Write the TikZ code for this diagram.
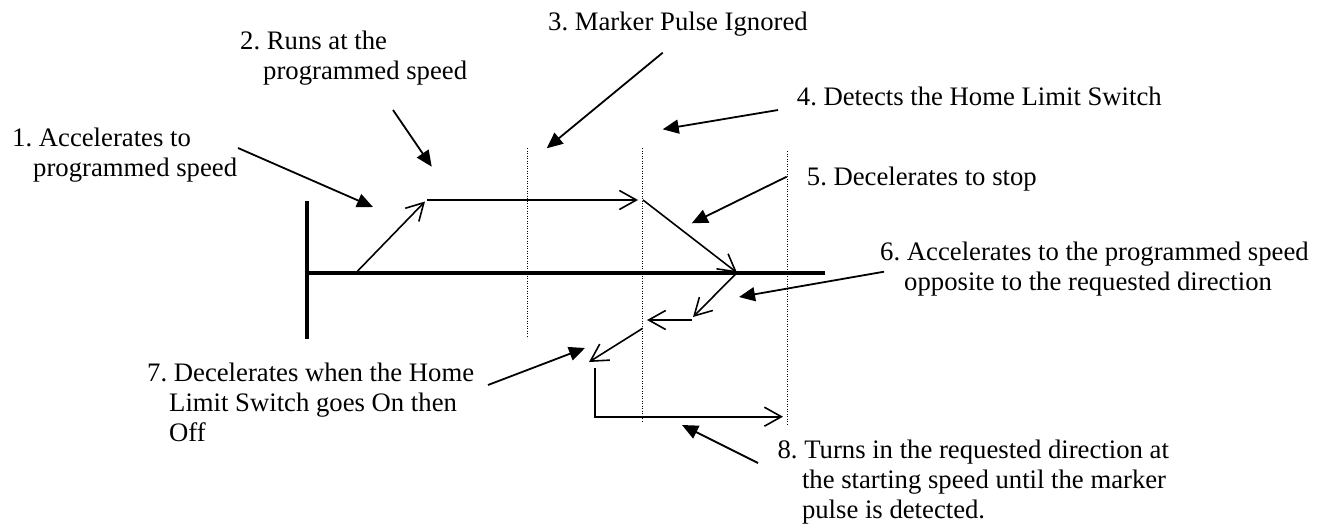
\documentclass[tikz,border=0pt]{standalone}
\usepackage{fontspec}
\setmainfont{Liberation Serif}
\usetikzlibrary{arrows.meta}
\frenchspacing
\begin{document}
\begin{tikzpicture}[x=1pt,y=-1pt,
  lbl/.style={anchor=base west, inner sep=0pt, font=\fontsize{26.7pt}{29.5pt}\selectfont},
  move/.style={line width=1.6pt, -{Straight Barb[length=17pt,width=19pt,line width=1.6pt]}},
  note/.style={line width=1.8pt, -{Triangle[length=16pt,width=14pt]}},
  axisline/.style={line width=4pt},
  guide/.style={line width=0.9pt, dash pattern=on 0.9pt off 1.6pt}]
\useasboundingbox (0,0) rectangle (1324,525);

% guide lines
\coordinate (g1t) at (527.7,148); \coordinate (g1b) at (527.7,338);
\coordinate (g2t) at (642.7,148); \coordinate (g2b) at (642.7,422);
\coordinate (g3t) at (787,151);   \coordinate (g3b) at (787,425);
\draw[guide] (g1t) -- (g1b);
\draw[guide] (g2t) -- (g2b);
\draw[guide] (g3t) -- (g3b);

% axes
\coordinate (vt) at (306.7,200.7); \coordinate (vb) at (306.7,339);
\coordinate (h0) at (304.7,272.7); \coordinate (h1) at (825,272.7);
\draw[axisline] (vt) -- (vb);
\draw[axisline] (h0) -- (h1);

% motion profile
\coordinate (m1) at (356,272.7);  \coordinate (m2) at (425,201.5);
\coordinate (m3) at (427,200);    \coordinate (m4) at (638,200);
\coordinate (m5) at (643,200);    \coordinate (m6) at (737,272.7);
\coordinate (m7) at (693,317);
\coordinate (m8) at (692,320);    \coordinate (m9) at (647,320);
\coordinate (m10) at (642.7,328.3); \coordinate (m11) at (589,362);
\coordinate (m12) at (595,368);   \coordinate (m13) at (595,416.7);
\coordinate (m14) at (783,416.7);
\draw[move] (m1) -- (m2);
\draw[move] (m3) -- (m4);
\draw[move] (m5) -- (m6);
\draw[move] (m6) -- (m7);
\draw[move] (m8) -- (m9);
\draw[move] (m10) -- (m11);
\draw[move] (m12) -- (m13) -- (m14);

% labels
\node[lbl] (t1a) at (12,146.7) {1. Accelerates to};
\node[lbl] (t1b) at (33,176) {programmed speed};
\node[lbl] (t2a) at (240,49) {2. Runs at the};
\node[lbl] (t2b) at (263,79) {programmed speed};
\node[lbl] (t3) at (548,30) {3. Marker Pulse Ignored};
\node[lbl] (t4) at (796.7,105) {4. Detects the Home Limit Switch};
\node[lbl] (t5) at (806.7,185) {5. Decelerates to stop};
\node[lbl] (t6a) at (880,260) {6. Accelerates to the programmed speed};
\node[lbl] (t6b) at (904,290) {opposite to the requested direction};
\node[lbl] (t7a) at (147,381.7) {7. Decelerates when the Home};
\node[lbl] (t7b) at (169,411.7) {Limit Switch goes On then};
\node[lbl] (t7c) at (169,441.7) {Off};
\node[lbl] (t8a) at (777.4,458) {8. Turns in the requested direction at};
\node[lbl] (t8b) at (801.8,488) {the starting speed until the marker};
\node[lbl] (t8c) at (801.8,518) {pulse is detected.};

% annotation arrows
\coordinate (n1s) at (238,148);   \coordinate (n1e) at (373,207);
\coordinate (n2s) at (393,110);   \coordinate (n2e) at (431.7,166.7);
\coordinate (n3s) at (662.7,52.7); \coordinate (n3e) at (546.7,148.3);
\coordinate (n4s) at (778,110);   \coordinate (n4e) at (662.7,129.3);
\coordinate (n5s) at (786.7,176.7); \coordinate (n5e) at (691.7,223.3);
\coordinate (n6s) at (884,271.7); \coordinate (n6e) at (739,297);
\coordinate (n7s) at (488,385);   \coordinate (n7e) at (585,348);
\coordinate (n8s) at (758,463);   \coordinate (n8e) at (682,425);
\draw[note] (n1s) -- (n1e);
\draw[note] (n2s) -- (n2e);
\draw[note] (n3s) -- (n3e);
\draw[note] (n4s) -- (n4e);
\draw[note] (n5s) -- (n5e);
\draw[note] (n6s) -- (n6e);
\draw[note] (n7s) -- (n7e);
\draw[note] (n8s) -- (n8e);
\end{tikzpicture}
\end{document}
